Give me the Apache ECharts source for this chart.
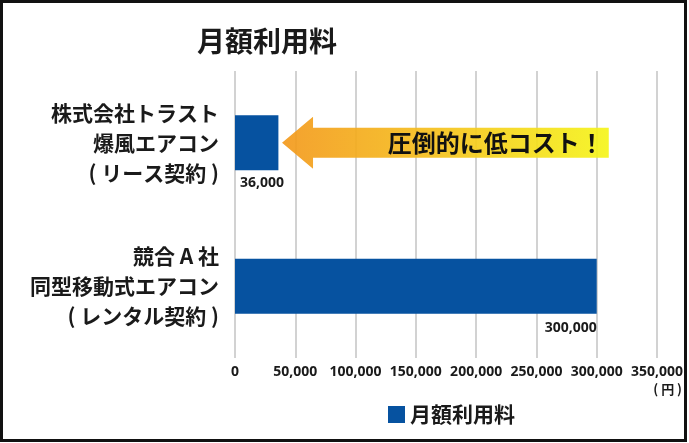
<!DOCTYPE html>
<html>
<head>
<meta charset="utf-8">
<script src="https://cdn.jsdelivr.net/npm/echarts@6/dist/echarts.min.js"></script>
<style>
  html, body { margin: 0; padding: 0; background: #fff; }
  #wrap { position: relative; width: 689px; height: 443px; }
  #chart { width: 689px; height: 443px; }
  #frame {
    position: absolute; left: 0; top: 0; width: 687px; height: 442px;
    box-sizing: border-box; border: 3px solid #111; pointer-events: none;
  }
</style>
</head>
<body>
<div id="wrap">
  <div id="chart"></div>
  <div id="frame"></div>
</div>
<script>
// データ
var categories = ['株式会社トラスト\n爆風エアコン\n( リース契約 )', '競合 A 社\n同型移動式エアコン\n( レンタル契約 )'];
var monthlyFee = [36000, 300000];
var xTicks = [0, 50000, 100000, 150000, 200000, 250000, 300000, 350000];
// 矢印の注記（値の範囲）
var arrowRange = [310000, 39000];
var arrowText = '圧倒的に低コスト！';

var font = '"Noto Sans CJK JP", "Noto Sans", sans-serif';
var numFont = '"Noto Sans", "Noto Sans CJK JP", sans-serif';
var ink = '#1a1a1a';

var chart = echarts.init(document.getElementById('chart'));
chart.setOption({
    animation: false,
    textStyle: { fontFamily: font },
    title: {
        text: '月額利用料',
        left: 262,
        top: 22,
        textAlign: 'center',
        textStyle: { fontSize: 28, fontWeight: 'bold', color: ink, fontFamily: font }
    },
    grid: { left: 235, right: 32, top: 71, bottom: 85 },
    legend: {
        data: ['月額利用料'],
        left: 383,
        top: 399,
        icon: 'rect',
        itemWidth: 17,
        itemHeight: 17,
        itemGap: 9,
        textStyle: { fontSize: 21, fontWeight: 'bold', color: ink, fontFamily: font }
    },
    xAxis: {
        type: 'value',
        min: xTicks[0],
        max: xTicks[xTicks.length - 1],
        interval: 50000,
        axisLine: { show: false },
        axisTick: { show: false },
        splitLine: { show: true, lineStyle: { color: '#c3c3c3', width: 1.5 } },
        axisLabel: {
            margin: 7,
            fontSize: 14,
            fontWeight: 'bold',
            color: ink,
            fontFamily: numFont,
            formatter: function (v) { return v.toLocaleString('en-US'); }
        }
    },
    yAxis: {
        type: 'category',
        inverse: true,
        data: categories,
        axisLine: { show: false },
        axisTick: { show: false },
        axisLabel: {
            margin: 16,
            fontSize: 21,
            fontWeight: 'bold',
            lineHeight: 30,
            color: ink,
            align: 'right',
            fontFamily: font
        }
    },
    series: [
        {
            name: '月額利用料',
            type: 'bar',
            barWidth: 55,
            itemStyle: { color: '#0652a0' },
            label: {
                show: true,
                fontSize: 14,
                fontWeight: 'bold',
                color: ink,
                fontFamily: numFont,
                formatter: function (p) { return p.value.toLocaleString('en-US'); }
            },
            data: [
                { value: monthlyFee[0], label: { position: [5, 68], align: 'left', verticalAlign: 'middle' } },
                { value: monthlyFee[1], label: { position: ['100%', 69], align: 'right', verticalAlign: 'middle' } }
            ],
            z: 2
        }
    ]
});

// 矢印と注記を軸に合わせて配置
var pEnd = chart.convertToPixel({ gridIndex: 0 }, [arrowRange[0], 0]);
var pTip = chart.convertToPixel({ gridIndex: 0 }, [arrowRange[1], 0]);
var cy = pTip[1];
var headLen = 31, headHalf = 26, shaftHalf = 15;
chart.setOption({
    graphic: [
        {
            type: 'polygon',
            z: 10,
            shape: {
                points: [
                    [pTip[0], cy],
                    [pTip[0] + headLen, cy - headHalf],
                    [pTip[0] + headLen, cy - shaftHalf],
                    [pEnd[0], cy - shaftHalf],
                    [pEnd[0], cy + shaftHalf],
                    [pTip[0] + headLen, cy + shaftHalf],
                    [pTip[0] + headLen, cy + headHalf]
                ]
            },
            style: {
                opacity: 0.93,
                fill: new echarts.graphic.LinearGradient(0, 0, 1, 0, [
                    { offset: 0, color: '#f39a1f' },
                    { offset: 0.45, color: '#f5bf1f' },
                    { offset: 1, color: '#f5f51c' }
                ])
            }
        },
        {
            type: 'text',
            z: 11,
            style: {
                text: arrowText,
                x: pEnd[0] - 5,
                y: cy,
                align: 'right',
                verticalAlign: 'middle',
                fill: '#111',
                font: 'bold 24px ' + font
            }
        },
        {
            type: 'text',
            z: 11,
            style: {
                text: '( 円 )',
                x: 682,
                y: 389,
                align: 'right',
                verticalAlign: 'middle',
                fill: ink,
                font: 'bold 13px ' + font
            }
        }
    ]
});
</script>
</body>
</html>
